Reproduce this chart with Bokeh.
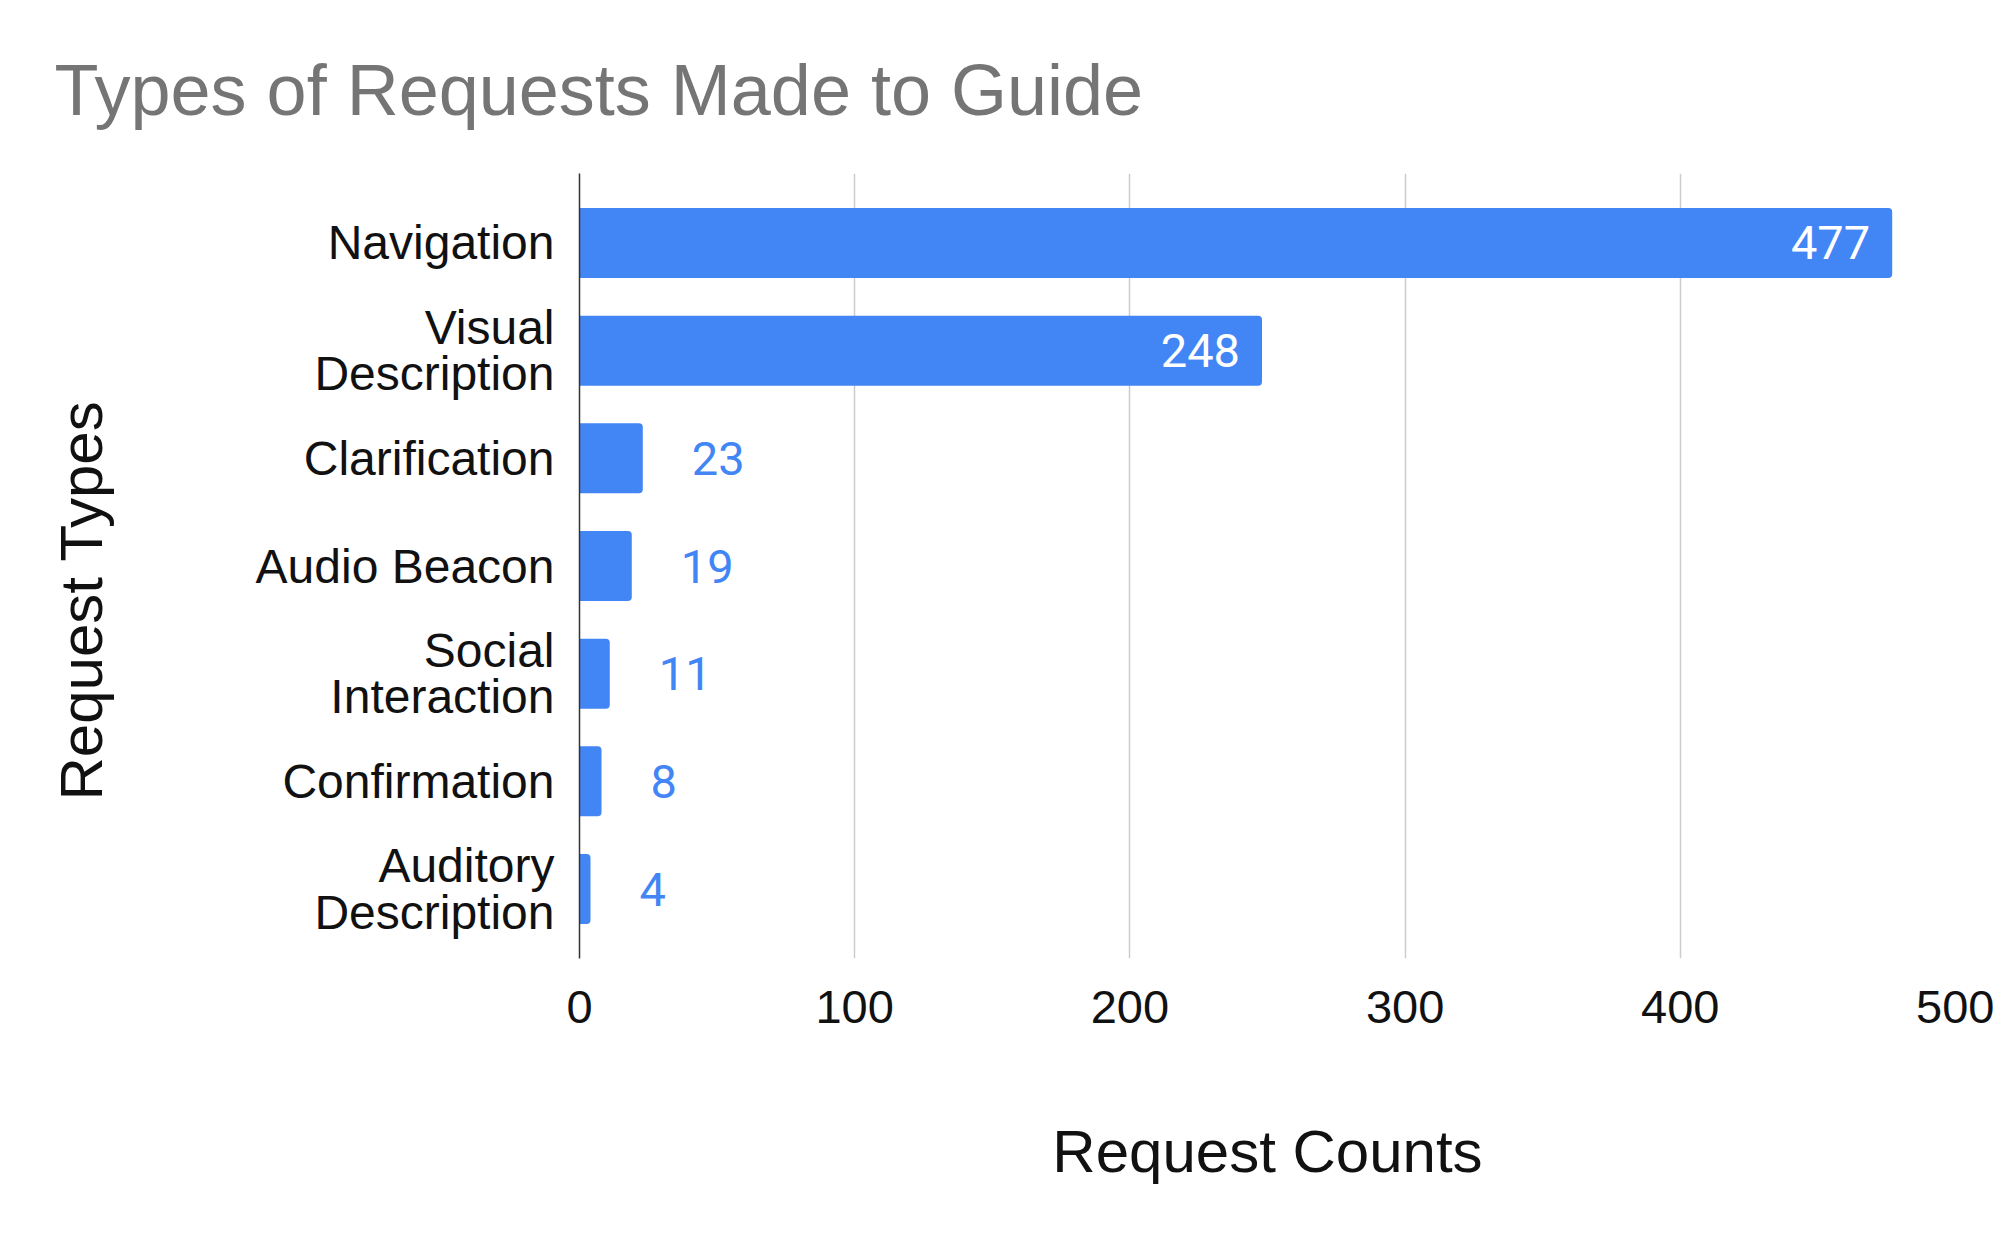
import math
from bokeh.plotting import figure
from bokeh.models import Range1d, FactorRange, FixedTicker, ColumnDataSource, Title
from bokeh.core.properties import value
from bokeh.embed import file_html
from bokeh.resources import INLINE

# ---- data ----
categories = ["Navigation", "Visual\nDescription", "Clarification", "Audio Beacon",
              "Social\nInteraction", "Confirmation", "Auditory\nDescription"]
counts = [477, 248, 23, 19, 11, 8, 4]
x_ticks = [0, 100, 200, 300, 400, 500]
title_text = "Types of Requests Made to Guide"
x_title = "Request Counts"
y_title = "Request Types"

BAR = "#4285F4"
TXT = "#111111"
LABEL_FONT = "Liberation Sans"

inside = [c > 100 for c in counts]
src = ColumnDataSource(dict(
    cat=categories,
    cnt=counts,
    lbl=[str(c) for c in counts],
    col=["#ffffff" if i else BAR for i in inside],
    align=["right" if i else "left" for i in inside],
    off=[-22 if i else 49 for i in inside],
))

p = figure(
    width=1994, height=1224,
    y_range=FactorRange(factors=list(reversed(categories)), range_padding=0.145,
                        range_padding_units="absolute"),
    x_range=Range1d(0, 500),
    output_backend="svg", toolbar_location=None,
    min_border_left=579, min_border_right=39, min_border_top=173, min_border_bottom=266,
)
p.outline_line_color = None
p.background_fill_color = "white"
p.border_fill_color = "white"

p.hbar(y="cat", right="cnt", left=0, height=0.65, source=src,
       fill_color=BAR, line_color=None, border_radius=(0, 4, 4, 0))

p.text(x="cnt", y="cat", text="lbl", source=src, text_color="col",
       text_align="align", x_offset="off", text_baseline="middle",
       text_font=value("Roboto"), text_font_size="47px")

# title
p.title.text = title_text
p.title.align = "left"
p.title.offset = -525
p.title.text_font = LABEL_FONT
p.title.text_font_size = "72px"
p.title.text_font_style = "normal"
p.title.text_color = "#757575"
p.title.standoff = 88

# x axis
xa = p.xaxis[0]
xa.ticker = FixedTicker(ticks=x_ticks)
xa.axis_line_color = None
xa.major_tick_line_color = None
xa.minor_tick_line_color = None
xa.major_tick_out = 0
xa.major_label_standoff = 32
xa.major_label_text_font = LABEL_FONT
xa.major_label_text_font_size = "47px"
xa.major_label_text_color = TXT
xa.axis_label = x_title
xa.axis_label_text_font = LABEL_FONT
xa.axis_label_text_font_size = "60px"
xa.axis_label_text_font_style = "normal"
xa.axis_label_text_color = TXT
xa.axis_label_standoff = 92

# y axis
ya = p.yaxis[0]
ya.axis_line_color = "#333333"
ya.axis_line_width = 1.5
ya.major_tick_line_color = None
ya.minor_tick_line_color = None
ya.major_tick_out = 0
ya.major_label_standoff = 25
ya.major_label_text_font = LABEL_FONT
ya.major_label_text_font_size = "48px"
ya.major_label_text_color = TXT
ya.major_label_text_line_height = 0.87
# spacer between tick labels and the y title panel
ya.axis_label = " "
ya.axis_label_text_font_size = "1px"
ya.axis_label_standoff = 134

p.xgrid.grid_line_color = "#cccccc"
p.xgrid.grid_line_width = 1.5
p.xgrid.ticker = FixedTicker(ticks=x_ticks)
p.ygrid.grid_line_color = None

ytitle = Title(text=y_title, align="left", offset=158, standoff=0,
               text_font=LABEL_FONT, text_font_size="60px",
               text_font_style="normal", text_color=TXT)
p.add_layout(ytitle, "left")

open("out.html", "w").write(file_html(p, INLINE))
